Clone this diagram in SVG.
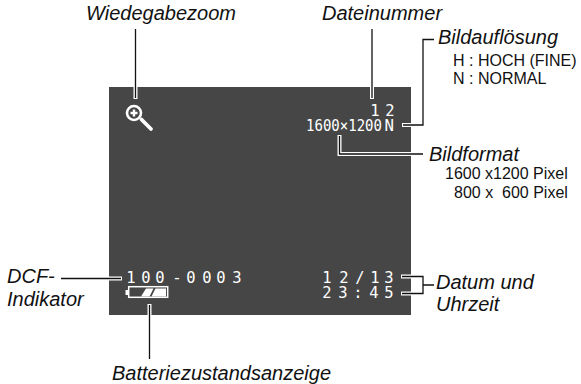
<svg xmlns="http://www.w3.org/2000/svg" width="581" height="384" viewBox="0 0 581 384">
<style>
.lab{font:italic 20px "Liberation Sans",Arial,sans-serif;fill:#111}
.sub{font:16px "Liberation Sans",Arial,sans-serif;fill:#111}
.scr{font:15.500px "DejaVu Sans Mono","Liberation Mono",monospace;fill:#fff}
.halo{fill:none;stroke:#fff;stroke-width:4}
.ln{fill:none;stroke:#111;stroke-width:1.300}
</style>
<rect id="screen" x="109" y="87" width="302" height="228" fill="#464646"/>
<g id="connectors">
<path class="halo" d="M135.500 87V99M372 87V99M402 125H411M339.500 135V154H411M109 278.500H122M149.500 315V304M401 276.500H411M401 293.500H411"/>
<path class="ln" d="M135.500 29V98M372 29V98M403 125H423V39.500H434M339.500 136V154H423M61 278.500H121M149.500 305V359M402 276.500H423V293.500H402M423 285H434"/>
</g>
<g id="wiedegabezoom">
<text class="lab" x="86" y="20">Wiedegabezoom</text>
<g fill="none" stroke="#fff"><circle cx="134" cy="113" r="7" stroke-width="2.600"/><path d="M141.500 119.500L151 129" stroke-width="3.800" stroke-linecap="round"/><path d="M130.500 113H137.500M134 109.500V116.500" stroke-width="2.400"/></g>
</g>
<g id="dateinummer">
<text class="lab" x="322" y="20">Dateinummer</text>
<text class="scr" x="370.300 385.300" y="116">12</text>
</g>
<g id="bildaufloesung">
<text class="lab" x="438" y="44">Bildauflösung</text>
<text class="sub" x="453" y="66">H : HOCH (FINE)</text>
<text class="sub" x="453" y="84">N : NORMAL</text>
<text class="scr" x="384.500" y="131" textLength="9.500" lengthAdjust="spacingAndGlyphs">N</text>
</g>
<g id="bildformat">
<text class="lab" x="429" y="161">Bildformat</text>
<text class="sub" x="445" y="179">1600 x1200 Pixel</text>
<text class="sub" x="454" y="198" xml:space="preserve">800 x  600 Pixel</text>
<text class="scr" x="306" y="131" textLength="76" lengthAdjust="spacingAndGlyphs">1600×1200</text>
</g>
<g id="dcf">
<text class="lab" x="7" y="283">DCF-</text>
<text class="lab" x="7" y="306">Indikator</text>
<text class="scr" x="126.300 141.300 155.300 172.300 186.300 202.300 216.300 232.300" y="283">100-0003</text>
</g>
<g id="batterie">
<text class="lab" x="112" y="380">Batteriezustandsanzeige</text>
<rect x="128.700" y="286.700" width="39" height="10.600" fill="none" stroke="#fff" stroke-width="1.500"/><rect x="125.500" y="290" width="2.500" height="5" fill="#fff"/><path d="M141 296.500L146 288.500H153.500L149.500 296.500ZM151.500 296.500L155.500 288.500H166V296.500Z" fill="#fff"/>
</g>
<g id="datum">
<text class="lab" x="436" y="289">Datum und</text>
<text class="lab" x="436" y="311">Uhrzeit</text>
<text class="scr" x="322.300 339.300 355.300 370.300 384.300" y="283">12/13</text>
<text class="scr" x="322.300 338.300 353.300 369.300 384.300" y="298">23:45</text>
</g>
</svg>
